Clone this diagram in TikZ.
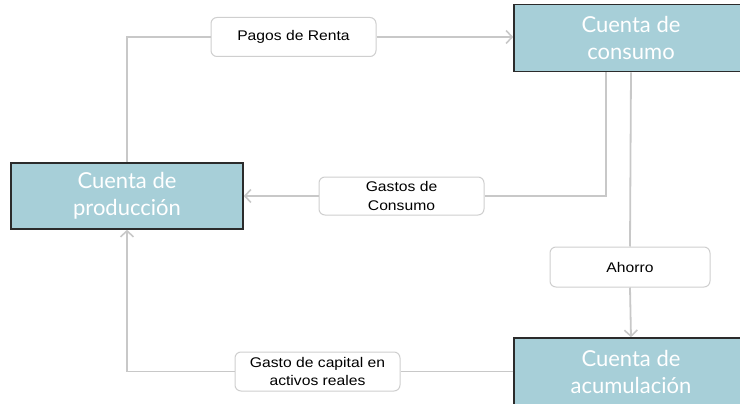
\documentclass[tikz,border=0pt]{standalone}
\usepackage{fontspec}
\setmainfont[FakeStretch=1.12]{Liberation Sans}
\newfontfamily\boxfont{Lato}
\usetikzlibrary{arrows.meta,calc}
\definecolor{boxfill}{HTML}{A7CFD8}
\definecolor{boxline}{HTML}{2B2B2B}
\definecolor{conn}{HTML}{C8C8C8}
\definecolor{lblline}{HTML}{CFCFCF}
\tikzset{
  acct/.style={draw=boxline, line width=1.6pt, fill=boxfill, text=white,
    minimum width=234pt, minimum height=67pt, align=center,
    font=\boxfont\fontsize{22}{27}\selectfont, inner sep=0pt},
  lbl/.style={draw=lblline, line width=1pt, fill=white, rounded corners=6pt,
    minimum width=165pt, minimum height=39pt, align=center,
    font=\fontsize{14}{18.5}\selectfont, inner sep=0pt},
  flow/.style={draw=conn, line width=1.8pt},
  flowarr/.style={flow, -{Straight Barb[length=6pt,width=13pt,line width=1.6pt]}}
}
\begin{document}
\begin{tikzpicture}[x=1pt,y=-1pt]
\useasboundingbox (0,0) rectangle (740,404);
\clip (0,0) rectangle (740,404);
\node[acct] (cons) at (631,38) {Cuenta de\\consumo};
\node[acct, minimum width=232pt, minimum height=66pt] (prod) at (127,196) {Cuenta de\\producción};
\node[acct] (acum) at (631,371.5) {Cuenta de\\acumulación};
\node[lbl] (pagos) at (293.5,37) {Pagos de Renta};
\node[lbl, minimum height=38pt] (gastos) at (401.5,196) {Gastos de\\Consumo};
\node[lbl, minimum width=160pt, minimum height=40pt] (ahorro) at (630,267) {Ahorro};
\node[lbl] (capital) at (317.5,371.5) {Gasto de capital en\\activos reales};
\coordinate (consout) at ($(cons.south)+(-25,0)$);
% Pagos de Renta
\draw[flow] (prod.north) |- (pagos.west);
\draw[flowarr] (pagos.east) -- (pagos.east -| cons.west);
% Gastos de Consumo
\draw[flow] (consout) |- (gastos.east);
\draw[flowarr] (gastos.west) -- (prod.east);
% Ahorro
\draw[flow] (cons.south) -- (ahorro.north);
\draw[flowarr] (ahorro.south) -- (acum.north);
% Gasto de capital
\draw[flow] (acum.west) -- (capital.east);
\draw[flowarr] (capital.west) -| (prod.south);
\end{tikzpicture}
\end{document}
